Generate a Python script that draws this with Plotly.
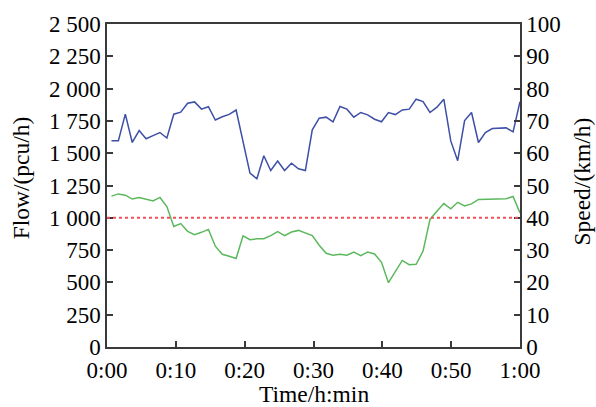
import plotly.graph_objects as go

# ---- data ----
flow = [1596, 1596, 1802, 1583, 1675, 1612, 1636, 1660, 1617, 1802,
        1818, 1887, 1897, 1841, 1860, 1757, 1782, 1800, 1834, 1600,
        1346, 1302, 1480, 1366, 1439, 1366, 1423, 1379, 1366, 1681,
        1771, 1779, 1743, 1861, 1841, 1779, 1815, 1797, 1763, 1743,
        1815, 1799, 1835, 1841, 1918, 1900, 1815, 1856, 1918, 1595,
        1442, 1753, 1815, 1583, 1660, 1691, 1696, 1696, 1665, 1899]
speed = [46.7, 47.4, 47.0, 45.8, 46.3, 45.8, 45.2, 46.3, 43.5, 37.3,
         38.2, 35.8, 34.8, 35.5, 36.4, 31.2, 28.7, 28.1, 27.4, 34.4,
         33.2, 33.5, 33.5, 34.5, 35.7, 34.5, 35.6, 36.1, 35.3, 34.5,
         31.5, 29.0, 28.4, 28.7, 28.4, 29.4, 28.3, 29.4, 28.8, 26.2,
         19.9, 23.4, 26.8, 25.5, 25.6, 29.7, 39.5, 42.0, 44.4, 42.8,
         44.8, 43.7, 44.3, 45.7, 45.7, 45.9, 45.9, 45.9, 46.6, 41.5]
n = len(flow)
time_min = [0.65 + i * (59.35 / (n - 1)) for i in range(n)]
threshold = 1000

x_tickvals = [0, 10, 20, 30, 40, 50, 60]
x_ticktext = ["0:00", "0:10", "0:20", "0:30", "0:40", "0:50", "1:00"]
y_tickvals = [0, 250, 500, 750, 1000, 1250, 1500, 1750, 2000, 2250, 2500]
y_ticktext = ["0", "250", "500", "750", "1 000", "1 250", "1 500", "1 750",
              "2 000", "2 250", "2 500"]
y2_tickvals = [0, 10, 20, 30, 40, 50, 60, 70, 80, 90, 100]
y2_ticktext = [str(v) for v in y2_tickvals]

FONT = "Liberation Serif, Times New Roman, serif"
AX = "#3a3a3a"
TICK_SIZE = 23
TITLE_SIZE = 23.5

fig = go.Figure()
fig.add_trace(go.Scatter(x=time_min, y=flow, mode="lines",
                         line=dict(color="#3d4fa6", width=1.5),
                         yaxis="y", showlegend=False))
fig.add_trace(go.Scatter(x=time_min, y=speed, mode="lines",
                         line=dict(color="#5cb85c", width=1.5),
                         yaxis="y2", showlegend=False))
fig.add_shape(type="line", xref="paper", x0=0, x1=1, yref="y",
              y0=threshold, y1=threshold,
              line=dict(color="#f0505a", width=2, dash="dot"))

common = dict(ticks="inside", ticklen=6, tickwidth=1.5, tickcolor=AX,
              showline=True, linecolor=AX, linewidth=1.5,
              showgrid=False, zeroline=False, automargin=False,
              tickfont=dict(size=TICK_SIZE))

fig.update_layout(
    width=596, height=407,
    margin=dict(l=107, r=76, t=24, b=60),
    paper_bgcolor="white", plot_bgcolor="white",
    font=dict(family=FONT, size=TICK_SIZE, color="black"),
    xaxis=dict(range=[0, 60], tickvals=x_tickvals, ticktext=x_ticktext,
               mirror=True, ticklabelstandoff=2, **common),
    yaxis=dict(range=[0, 2500], tickvals=y_tickvals, ticktext=y_ticktext,
               **common),
    yaxis2=dict(range=[0, 100], tickvals=y2_tickvals, ticktext=y2_ticktext,
                overlaying="y", side="right", **common),
    annotations=[
        dict(text="Time/h:min", xref="paper", yref="paper", x=0.502, y=-0.146,
             xanchor="center", yanchor="middle", showarrow=False,
             font=dict(size=TITLE_SIZE)),
        dict(text="Flow/(pcu/h)", xref="paper", yref="paper", x=-0.206, y=0.525,
             xanchor="center", yanchor="middle", showarrow=False,
             textangle=-90, font=dict(size=TITLE_SIZE)),
        dict(text="Speed/(km/h)", xref="paper", yref="paper", x=1.150, y=0.512,
             xanchor="center", yanchor="middle", showarrow=False,
             textangle=-90, font=dict(size=TITLE_SIZE)),
    ],
)

fig.write_html("out.html",
               config={"displayModeBar": False},
               post_script="document.body.style.margin='0';"
                           "document.body.style.padding='0';")
